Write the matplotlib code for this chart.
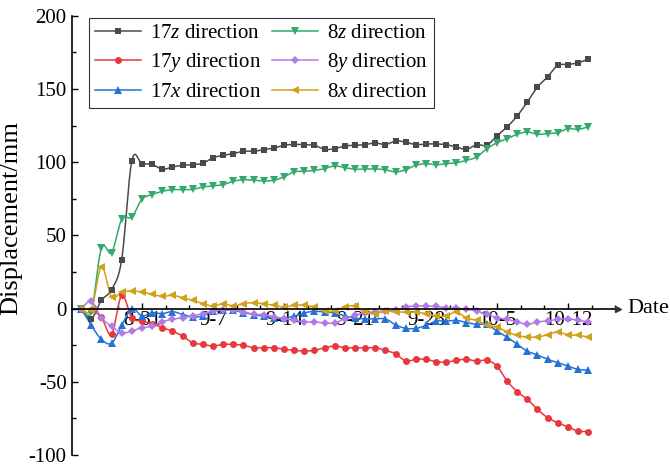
import numpy as np
import matplotlib
matplotlib.use("Agg")
import matplotlib.pyplot as plt
from matplotlib.ticker import FixedLocator, FixedFormatter, MultipleLocator
import matplotlib.transforms as mtransforms

plt.rcParams['font.family'] = ['Liberation Serif', 'DejaVu Serif']
plt.rcParams['mathtext.fontset'] = 'custom'
plt.rcParams['mathtext.rm'] = 'Liberation Serif'
plt.rcParams['mathtext.it'] = 'Liberation Serif:italic'
plt.rcParams['axes.unicode_minus'] = False

# Days counted from 8-31 (first reading on 8-25, last on 10-14)
days = list(range(-6, 45))

tick_days = [0, 7, 14, 21, 28, 35, 42]
tick_labels = ["8-31", "9-7", "9-14", "9-21", "9-28", "10-5", "10-12"]

z17 = [0, -6.8, 5.7, 13, 33.5, 100.9, 99, 98.6, 95.2, 96.8,
       97.9, 98.3, 99.3, 103.1, 104.7, 105.9, 107.5, 107.5, 108.6, 109.7,
       111.6, 112.2, 112, 111.6, 108.8, 109.3, 111.1, 111.6, 112, 113.2,
       112, 114.5, 113.8, 112, 112.5, 112.5, 112, 110.4, 108.8, 112,
       111.6, 118, 124.1, 131.6, 141.2, 151.4, 158.3, 166.2, 166.7, 168,
       170.3]
y17 = [0, -1, -6, -17.5, 9, -6.2, -8.5, -10.3, -13, -15.3,
       -18.7, -23.3, -24.4, -25.5, -24.4, -24.4, -25.1, -26.7, -26.7, -26.7,
       -27.8, -28.5, -29, -28.5, -26.7, -25.5, -26.7, -26.7, -26.7, -26.7,
       -28.5, -30.8, -35.8, -34.6, -34.6, -36.2, -36.5, -35.3, -34.6, -35.8,
       -35.3, -39.2, -49.4, -56.7, -62, -68.8, -74.5, -77.9, -80.9, -83.6,
       -84]
x17 = [0, -11.4, -21, -23.6, -11.5, 0, -5, -2.8, -3.4, -2,
       -4, -5.7, -5, -1.6, -1.1, -1.1, -2.7, -4, -5.2, -6.3,
       -6.3, -5.2, -2.9, -1.8, -2.3, -2.9, -5, -6.5, -7, -7,
       -7, -11, -13.5, -13.5, -11.5, -8.5, -8.5, -8, -9.5, -10.7,
       -10.7, -15.3, -19.4, -24.4, -29, -31.7, -34.6, -36.9, -39.2, -41.5,
       -41.9]
z8 = [0, -2, 41.4, 38.2, 61, 62.6, 74.7, 77.9, 80.1, 81.3,
      81.3, 81.5, 83.1, 83.8, 84.7, 87, 88.1, 87.7, 87.2, 87.7,
      90, 93.4, 93.8, 94.5, 95.6, 97.5, 96.3, 95.2, 95.4, 95.4,
      94.9, 93.4, 94.9, 97.9, 99, 98.3, 99, 99.7, 101.3, 103.6,
      109.3, 113.2, 116.1, 119.1, 120.7, 119.1, 119.6, 120.2, 123, 122.5,
      124.1]
y8 = [0, 5, -6.2, -12, -16.5, -15.3, -13, -12, -8.9, -7.3,
      -6.2, -5, -3.4, -1.6, -1.1, -1.1, -2, -3.9, -4.1, -5.7,
      -6.8, -8, -9.1, -9.1, -9.8, -9.8, -6.8, -4.6, -2.7, -2.3,
      -1.8, -1.1, 1.1, 1.8, 1.8, 1.5, 0.7, 0.2, -0.5, -1.6,
      -3.9, -6.2, -7.3, -9.1, -10.7, -9.1, -8.4, -7.3, -6.8, -8,
      -9.1]
x8 = [0, -1, 28.5, 8, 11.4, 12, 11.4, 9.8, 8.4, 9.1,
      7.5, 5.7, 3.4, 1.8, 3.4, 1.8, 3.4, 4.1, 3.4, 2.3,
      1.1, 2.3, 2.3, 1.1, -1.6, -1.6, 1.1, 1.8, -2.3, -3.4,
      -1.8, -2.3, -2.3, -2.3, -3.4, -5, -5, -2.3, -6.4, -8,
      -11.4, -12.5, -15.9, -18.2, -19.4, -19.4, -17.8, -15.9, -17.8, -18.2,
      -19.4]

labels = ["17$z$ direction", "17$y$ direction", "17$x$ direction",
          "8$z$ direction", "8$y$ direction", "8$x$ direction"]
colors = ["#4a4a4a", "#e8383d", "#2472d8", "#33a96b", "#b27ae6", "#d2a11b"]
markers = ["s", "o", "^", "v", "D", "<"]
msizes = [4.8, 5.0, 5.2, 5.4, 4.2, 5.4]


def catmull_rom(x, y, n=16):
    x = np.asarray(x, float)
    y = np.asarray(y, float)
    yp = np.concatenate([[2 * y[0] - y[1]], y, [2 * y[-1] - y[-2]]])
    t = np.linspace(0, 1, n, endpoint=False)
    xs, ys = [], []
    for k in range(len(x) - 1):
        p0, p1, p2, p3 = yp[k:k + 4]
        seg = 0.5 * (2 * p1 + (-p0 + p2) * t
                     + (2 * p0 - 5 * p1 + 4 * p2 - p3) * t ** 2
                     + (-p0 + 3 * p1 - 3 * p2 + p3) * t ** 3)
        xs.append(x[k] + (x[k + 1] - x[k]) * t)
        ys.append(seg)
    xs.append([x[-1]])
    ys.append([y[-1]])
    return np.concatenate(xs), np.concatenate(ys)


fig = plt.figure(figsize=(6.7, 4.66), dpi=100)
ax = fig.add_axes([0.1079, 0.0235, 0.8145, 0.9425])

series = [z17, y17, x17, z8, y8, x8]
handles = []
for vals, lab, c, m, ms in zip(series, labels, colors, markers, msizes):
    sx, sy = catmull_rom(days, vals)
    ax.plot(sx, sy, color=c, lw=1.1, zorder=3)
    ax.plot(days, vals, ls="none", marker=m, ms=ms, color=c,
            markeredgewidth=0, zorder=4)
    h, = ax.plot([], [], color=c, lw=1.1, marker=m, ms=ms,
                 markeredgewidth=0)
    handles.append(h)

ax.set_xlim(-6.87, 46.94)
ax.set_ylim(-100, 200)

ax.spines['top'].set_visible(False)
ax.spines['right'].set_visible(False)
ax.spines['bottom'].set_position(('data', 0))
ax.spines['bottom'].set_linewidth(1.2)
ax.spines['left'].set_linewidth(1.2)
ax.spines['bottom'].set_zorder(5)

ax.xaxis.set_major_locator(FixedLocator(tick_days))
ax.xaxis.set_major_formatter(FixedFormatter(tick_labels))
ax.xaxis.set_minor_locator(MultipleLocator(7 / 3))
ax.yaxis.set_major_locator(MultipleLocator(50))
ax.yaxis.set_minor_locator(MultipleLocator(25))

ax.tick_params(axis='both', which='both', direction='in', labelsize=15,
               width=1.0)
ax.tick_params(axis='both', which='major', length=4.5)
ax.tick_params(axis='both', which='minor', length=2.8)
ax.tick_params(axis='x', which='major', pad=1.5)
ax.tick_params(axis='y', which='major', pad=4)
for lbl in ax.get_xticklabels():
    lbl.set_zorder(6)

# Arrow head and title at the end of the date axis
trans = mtransforms.blended_transform_factory(ax.transAxes, ax.transData)
ax.plot([1.0], [0], marker=">", ms=5, color="#333333", transform=trans,
        clip_on=False, zorder=6)
ax.text(1.0165, 0, "Date", transform=trans, fontsize=16, va="center",
        ha="left")

ax.set_ylabel("Displacement/mm", fontsize=19)
ax.yaxis.set_label_coords(-0.092, 0.54)

leg = ax.legend(handles, labels, ncol=2, loc="upper left",
                bbox_to_anchor=(0.0306, 0.996), borderaxespad=0,
                fontsize=15, frameon=True, fancybox=False,
                handlelength=2.2, handletextpad=0.45, columnspacing=0.5,
                labelspacing=0.38, borderpad=0.3)
leg.get_frame().set_edgecolor("black")
leg.get_frame().set_linewidth(0.8)

fig.savefig("out.png", dpi=100)
